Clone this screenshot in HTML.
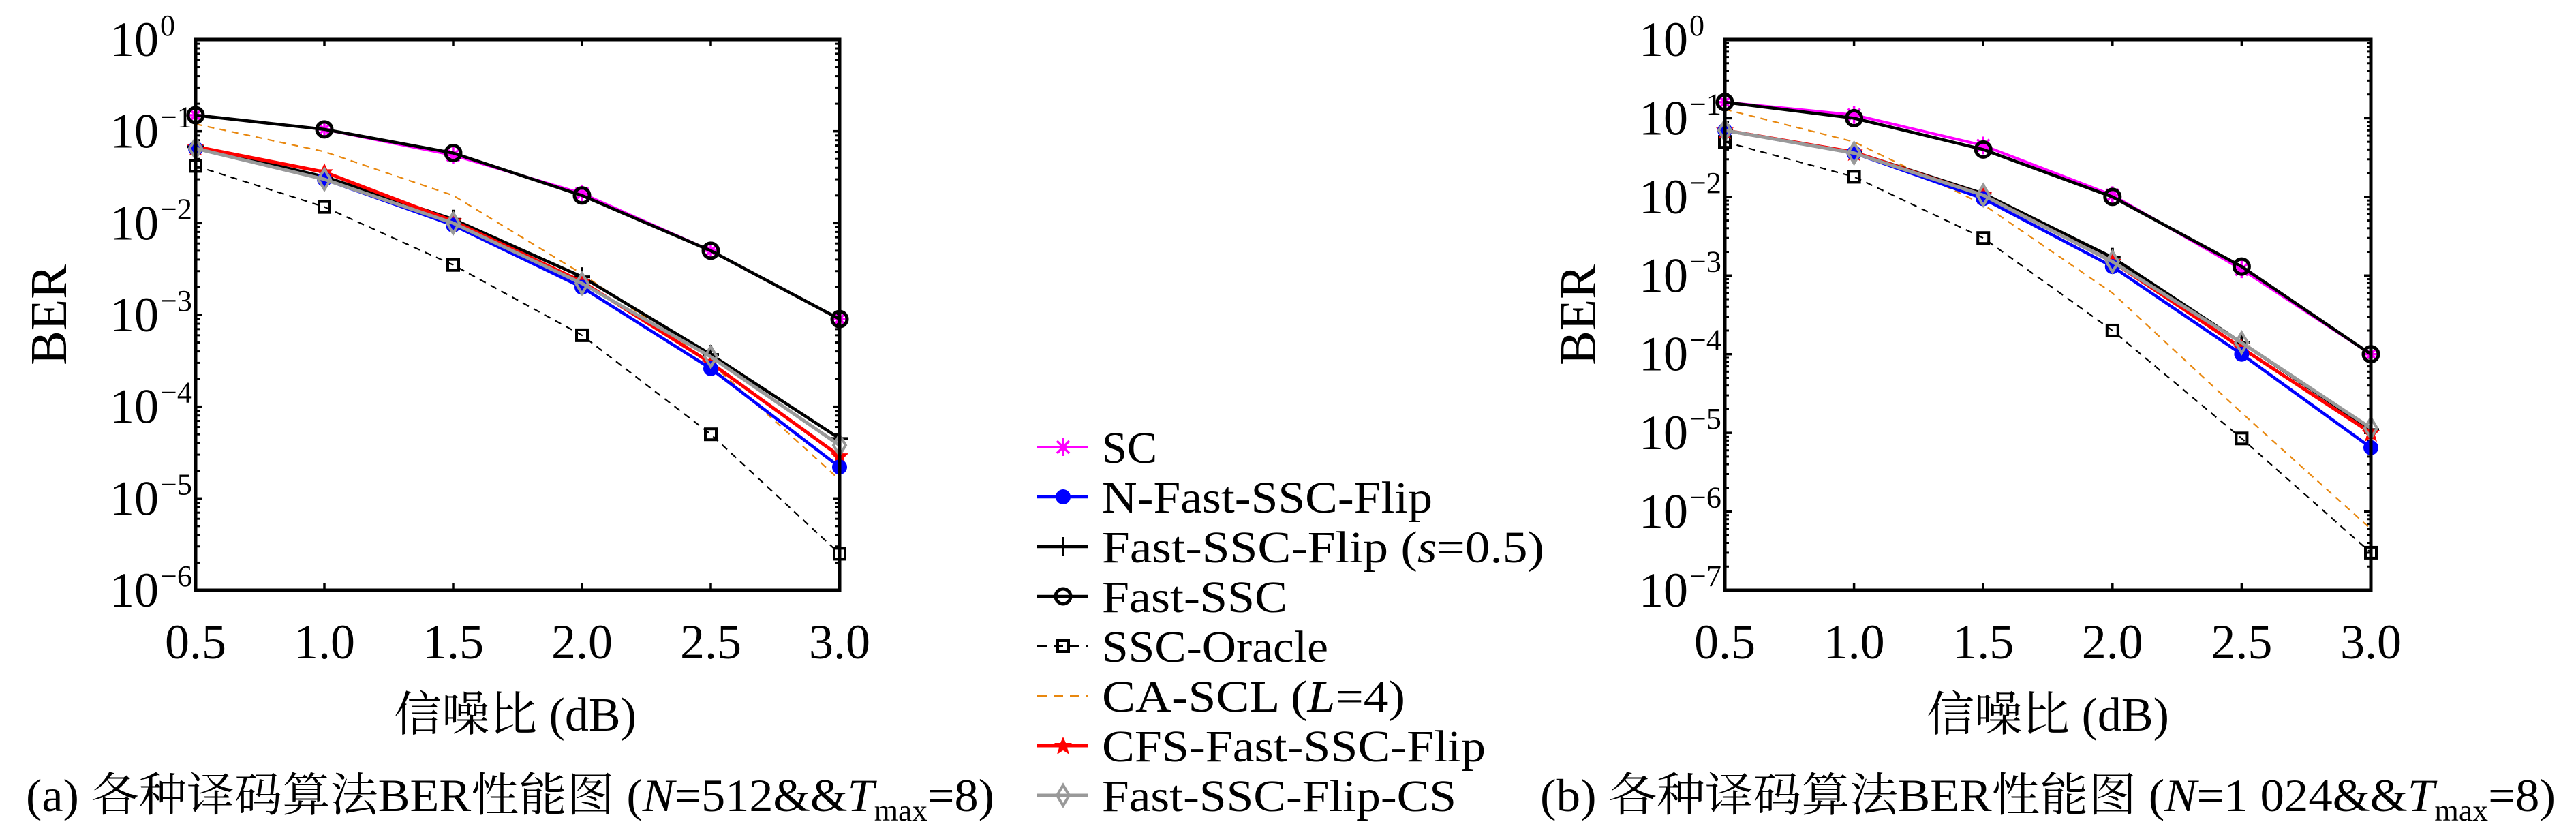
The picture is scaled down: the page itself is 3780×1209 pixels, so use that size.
<!DOCTYPE html>
<html><head><meta charset="utf-8"><style>
html,body{margin:0;padding:0;background:#fff;}
svg{display:block;}
svg text{font-family:"Liberation Serif","Noto Serif CJK SC",serif;fill:#000;}
</style></head><body>
<svg id="s" width="3780" height="1209" viewBox="0 0 3780 1209" xmlns="http://www.w3.org/2000/svg"></svg>
<script>
const S=document.getElementById('s');let h='';
const FF='';
function plot(x0,x1,y0,y1,dec,data,xlabC,cap,capX,capW){
  const dpx=(y1-y0)/dec, X=i=>x0+(x1-x0)*i/5, Y=v=>y0+(-Math.log10(v))*dpx;
  for(let d=0;d<=dec;d++){
    const y=y0+d*dpx;
    h+=`<line x1="${x0}" y1="${y}" x2="${x0+10}" y2="${y}" stroke="#000" stroke-width="3.5"/><line x1="${x1}" y1="${y}" x2="${x1-10}" y2="${y}" stroke="#000" stroke-width="3.5"/>`;
    h+=`<text x="${x0-54}" y="${y+24}" font-size="72" text-anchor="end">10</text><text x="${x0-52}" y="${y-6}" font-size="44">${d==0?'0':'−'+d}</text>`;
    if(d<dec){for(let k=2;k<=9;k++){const yy=y+dpx*(1-Math.log10(k));
      h+=`<line x1="${x0}" y1="${yy}" x2="${x0+6}" y2="${yy}" stroke="#000" stroke-width="3"/><line x1="${x1}" y1="${yy}" x2="${x1-6}" y2="${yy}" stroke="#000" stroke-width="3"/>`;}}
  }
  for(let i=0;i<=5;i++){const x=X(i);
    h+=`<line x1="${x}" y1="${y0}" x2="${x}" y2="${y0+10}" stroke="#000" stroke-width="3.5"/><line x1="${x}" y1="${y1}" x2="${x}" y2="${y1-10}" stroke="#000" stroke-width="3.5"/>`;
    h+=`<text x="${x}" y="${y1+100}" font-size="72" text-anchor="middle">${(0.5+i*0.5).toFixed(1)}</text>`;}
  for(const s of data){
    const pts=s.v.map((v,i)=>X(i)+','+Y(v)).join(' ');
    h+=`<polyline points="${pts}" fill="none" stroke="${s.c}" stroke-width="${s.w}" ${s.dash?'stroke-dasharray="'+s.dash+'"':''}/>`;
    s.v.forEach((v,i)=>{h+=mk(s.m,X(i),Y(v),s.c);});
  }
  h+=`<rect x="${x0}" y="${y0}" width="${x1-x0}" height="${y1-y0}" fill="none" stroke="#000" stroke-width="5"/>`;
  h+=`<text transform="translate(${x0-190},${(y0+y1)/2}) rotate(-90)" font-size="76" text-anchor="middle">BER</text>`;
  h+=`<text x="${xlabC}" y="${y1+206}" font-size="70" text-anchor="middle">信噪比 (dB)</text>`;
  h+=`<text x="${capX}" y="${1190}" font-size="68" textLength="${capW}" lengthAdjust="spacingAndGlyphs">${cap}</text>`;
}
function mk(m,x,y,c){
  switch(m){
    case 'star': return `<g stroke="${c}" stroke-width="3.5"><line x1="${x-11}" y1="${y}" x2="${x+11}" y2="${y}"/><line x1="${x}" y1="${y-13}" x2="${x}" y2="${y+13}"/><line x1="${x-9}" y1="${y-9}" x2="${x+9}" y2="${y+9}"/><line x1="${x-9}" y1="${y+9}" x2="${x+9}" y2="${y-9}"/></g>`;
    case 'dot': return `<circle cx="${x}" cy="${y}" r="11" fill="${c}"/>`;
    case 'plus': return `<g stroke="${c}" stroke-width="4"><line x1="${x-12}" y1="${y}" x2="${x+12}" y2="${y}"/><line x1="${x}" y1="${y-14}" x2="${x}" y2="${y+14}"/></g>`;
    case 'circ': return `<circle cx="${x}" cy="${y}" r="11" fill="none" stroke="${c}" stroke-width="5"/>`;
    case 'sq': return `<rect x="${x-8}" y="${y-8}" width="16" height="16" fill="none" stroke="${c}" stroke-width="4"/>`;
    case 'rstar': return `<polygon points="${x},${y-13} ${x+4},${y-4} ${x+13},${y-4} ${x+6},${y+3} ${x+9},${y+13} ${x},${y+7} ${x-9},${y+13} ${x-6},${y+3} ${x-13},${y-4} ${x-4},${y-4}" fill="${c}"/>`;
    case 'dia': return `<polygon points="${x},${y-15} ${x+9},${y} ${x},${y+15} ${x-9},${y}" fill="none" stroke="${c}" stroke-width="4"/>`;
  }return '';
}
const st={SC:{c:'#ff00ff',m:'star',w:4},N:{c:'#0000ff',m:'dot',w:4.5},F:{c:'#000',m:'plus',w:4.5},FS:{c:'#000',m:'circ',w:4.5},O:{c:'#000',m:'sq',w:2.2,dash:'10,8'},CA:{c:'#e8870e',m:'',w:2.2,dash:'10,8'},CFS:{c:'#ff0000',m:'rstar',w:5},CS:{c:'#999',m:'dia',w:5}};
function mkd(o){return ['CA','O','SC','FS','F','CFS','N','CS'].map(k=>Object.assign({v:o[k]},st[k]));}
const A=mkd({SC:[0.15,0.105,0.055,0.021,0.005,0.0009],FS:[0.15,0.105,0.058,0.02,0.005,0.0009],
N:[0.065,0.03,0.0095,0.002,0.00026,0.000022],F:[0.068,0.032,0.011,0.0026,0.00037,0.000045],
O:[0.042,0.015,0.0035,0.0006,0.00005,0.0000025],CA:[0.12,0.06,0.02,0.0028,0.0003,0.000016],
CFS:[0.068,0.036,0.0105,0.0023,0.0003,0.000029],CS:[0.065,0.03,0.01,0.0022,0.00035,0.000038]});
const B=mkd({SC:[0.16,0.11,0.045,0.0105,0.0012,0.0001],FS:[0.16,0.1,0.04,0.01,0.0013,0.0001],
N:[0.07,0.036,0.0095,0.0013,0.0001,0.0000065],F:[0.07,0.037,0.011,0.0017,0.00014,0.000011],
O:[0.05,0.018,0.003,0.0002,0.0000085,0.0000003],CA:[0.13,0.05,0.008,0.0006,0.000018,0.0000006],
CFS:[0.07,0.037,0.0105,0.0015,0.00012,0.00001],CS:[0.07,0.036,0.0105,0.0015,0.00014,0.0000115]});
plot(287,1232,58,866,6,A,756,'(a) 各种译码算法BER性能图 (<tspan font-style="italic">N</tspan>=512&amp;&amp;<tspan font-style="italic">T</tspan><tspan font-size="44" dy="14">max</tspan><tspan dy="-14">=8)</tspan>',38,1421);
plot(2531,3479,58,866,7,B,3005,'(b) 各种译码算法BER性能图 (<tspan font-style="italic">N</tspan>=1 024&amp;&amp;<tspan font-style="italic">T</tspan><tspan font-size="44" dy="14">max</tspan><tspan dy="-14">=8)</tspan>',2260,1490);
const L=[['SC','SC',1698],['N','N-Fast-SSC-Flip',2102],['F','Fast-SSC-Flip (<tspan font-style="italic">s</tspan>=0.5)',2266],['FS','Fast-SSC',1889],['O','SSC-Oracle',1949],['CA','CA-SCL (<tspan font-style="italic">L</tspan>=4)',2062],['CFS','CFS-Fast-SSC-Flip',2180],['CS','Fast-SSC-Flip-CS',2137]];
L.forEach((l,i)=>{const y=656+i*73.0,s=st[l[0]];
  h+=`<line x1="1522" y1="${y}" x2="1597" y2="${y}" stroke="${s.c}" stroke-width="${s.w}" ${s.dash?'stroke-dasharray="14,10"':''}/>`;
  h+=mk(s.m,1560,y,s.c);
  h+=`<text x="1617" y="${y+23}" font-size="66" textLength="${l[2]-1617}" lengthAdjust="spacingAndGlyphs">${l[1]}</text>`;});
S.innerHTML=h;
</script>
</body></html>
